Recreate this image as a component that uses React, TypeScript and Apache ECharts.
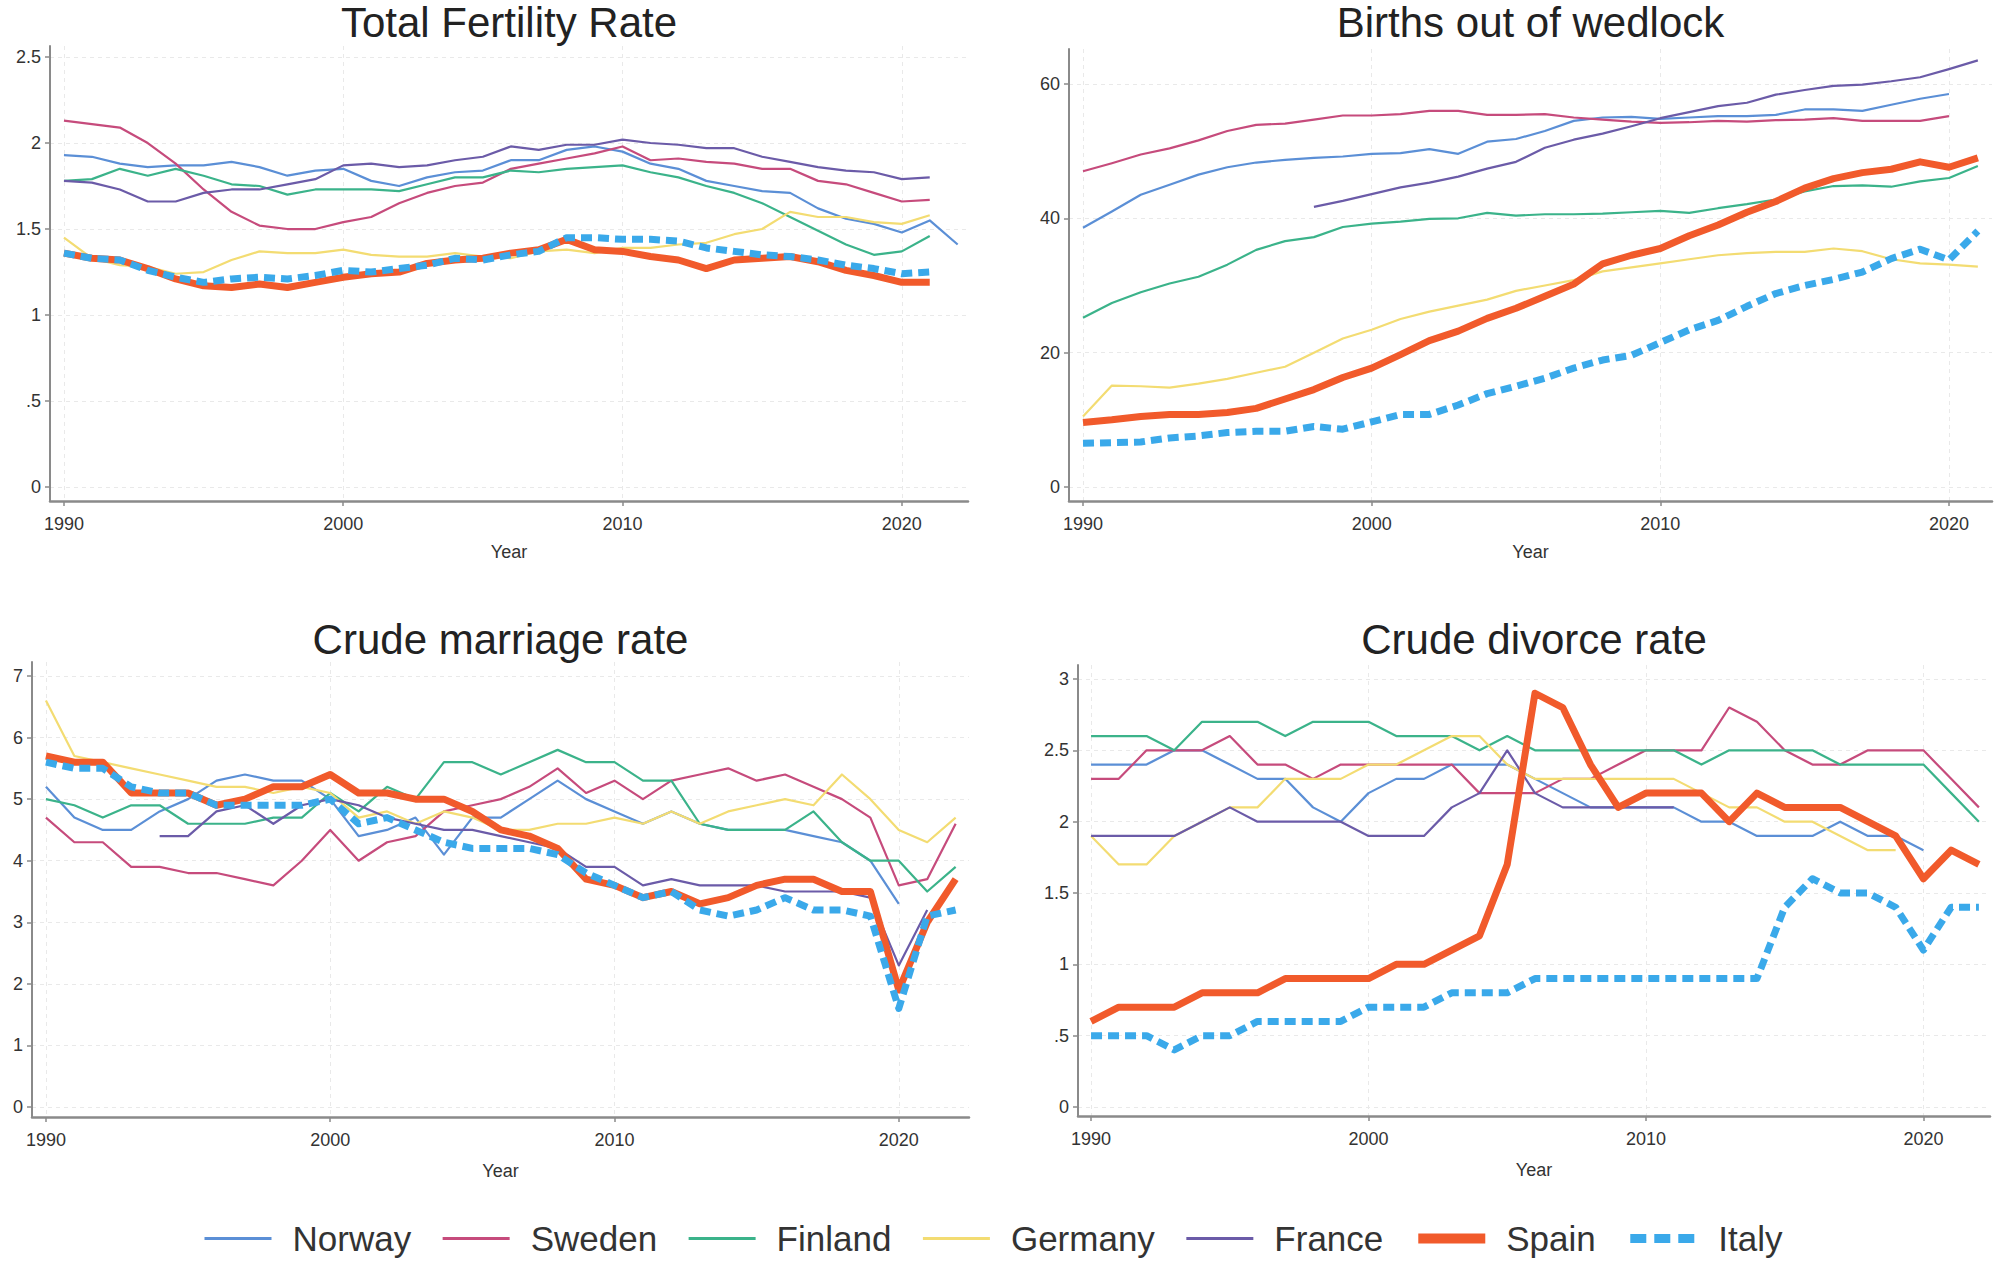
import React, { useEffect, useRef } from "react";
import * as echarts from "echarts";

const YEARS = [1990, 1991, 1992, 1993, 1994, 1995, 1996, 1997, 1998, 1999, 2000, 2001, 2002, 2003, 2004, 2005, 2006, 2007, 2008, 2009, 2010, 2011, 2012, 2013, 2014, 2015, 2016, 2017, 2018, 2019, 2020, 2021, 2022];
const COUNTRIES = ["Norway", "Sweden", "Finland", "Germany", "France", "Spain", "Italy"];
const COLORS = ["#5b8fd6", "#c64b7c", "#3bb38a", "#f3dc72", "#6b5ba8", "#f15a2b", "#3aa9ea"];

const YEAR_TICKS = [1990, 2000, 2010, 2020];
const TFR_TICKS = [0, 0.5, 1, 1.5, 2, 2.5];
const WEDLOCK_TICKS = [0, 20, 40, 60];
const MARRIAGE_TICKS = [0, 1, 2, 3, 4, 5, 6, 7];
const DIVORCE_TICKS = [0, 0.5, 1, 1.5, 2, 2.5, 3];

// Total Fertility Rate
const TFR_NORWAY = [1.93, 1.92, 1.88, 1.86, 1.87, 1.87, 1.89, 1.86, 1.81, 1.84, 1.85, 1.78, 1.75, 1.8, 1.83, 1.84, 1.9, 1.9, 1.96, 1.98, 1.95, 1.88, 1.85, 1.78, 1.75, 1.72, 1.71, 1.62, 1.56, 1.53, 1.48, 1.55, 1.41];
const TFR_SWEDEN = [2.13, 2.11, 2.09, 2.0, 1.88, 1.73, 1.6, 1.52, 1.5, 1.5, 1.54, 1.57, 1.65, 1.71, 1.75, 1.77, 1.85, 1.88, 1.91, 1.94, 1.98, 1.9, 1.91, 1.89, 1.88, 1.85, 1.85, 1.78, 1.76, 1.71, 1.66, 1.67, null];
const TFR_FINLAND = [1.78, 1.79, 1.85, 1.81, 1.85, 1.81, 1.76, 1.75, 1.7, 1.73, 1.73, 1.73, 1.72, 1.76, 1.8, 1.8, 1.84, 1.83, 1.85, 1.86, 1.87, 1.83, 1.8, 1.75, 1.71, 1.65, 1.57, 1.49, 1.41, 1.35, 1.37, 1.46, null];
const TFR_GERMANY = [1.45, 1.33, 1.29, 1.28, 1.24, 1.25, 1.32, 1.37, 1.36, 1.36, 1.38, 1.35, 1.34, 1.34, 1.36, 1.34, 1.33, 1.37, 1.38, 1.36, 1.39, 1.39, 1.41, 1.42, 1.47, 1.5, 1.6, 1.57, 1.57, 1.54, 1.53, 1.58, null];
const TFR_FRANCE = [1.78, 1.77, 1.73, 1.66, 1.66, 1.71, 1.73, 1.73, 1.76, 1.79, 1.87, 1.88, 1.86, 1.87, 1.9, 1.92, 1.98, 1.96, 1.99, 1.99, 2.02, 2.0, 1.99, 1.97, 1.97, 1.92, 1.89, 1.86, 1.84, 1.83, 1.79, 1.8, null];
const TFR_SPAIN = [1.36, 1.33, 1.32, 1.27, 1.21, 1.17, 1.16, 1.18, 1.16, 1.19, 1.22, 1.24, 1.25, 1.3, 1.32, 1.33, 1.36, 1.38, 1.44, 1.38, 1.37, 1.34, 1.32, 1.27, 1.32, 1.33, 1.34, 1.31, 1.26, 1.23, 1.19, 1.19, null];
const TFR_ITALY = [1.36, 1.33, 1.32, 1.26, 1.22, 1.19, 1.21, 1.22, 1.21, 1.23, 1.26, 1.25, 1.27, 1.29, 1.33, 1.32, 1.35, 1.37, 1.45, 1.45, 1.44, 1.44, 1.43, 1.39, 1.37, 1.35, 1.34, 1.32, 1.29, 1.27, 1.24, 1.25, null];

// Births out of wedlock (%)
const BOW_NORWAY = [38.6, 41.0, 43.5, 45.0, 46.5, 47.6, 48.3, 48.7, 49.0, 49.2, 49.6, 49.7, 50.3, 49.6, 51.4, 51.8, 53.0, 54.5, 55.0, 55.1, 54.8, 55.0, 55.2, 55.2, 55.4, 56.2, 56.2, 56.0, 56.9, 57.8, 58.5, null, null];
const BOW_SWEDEN = [47.0, 48.2, 49.5, 50.4, 51.6, 53.0, 53.9, 54.1, 54.7, 55.3, 55.3, 55.5, 56.0, 56.0, 55.4, 55.4, 55.5, 55.0, 54.7, 54.4, 54.2, 54.3, 54.5, 54.4, 54.6, 54.7, 54.9, 54.5, 54.5, 54.5, 55.2, null, null];
const BOW_FINLAND = [25.2, 27.4, 29.0, 30.3, 31.3, 33.1, 35.3, 36.6, 37.2, 38.7, 39.2, 39.5, 39.9, 40.0, 40.8, 40.4, 40.6, 40.6, 40.7, 40.9, 41.1, 40.8, 41.5, 42.1, 42.8, 44.0, 44.8, 44.9, 44.7, 45.5, 46.0, 47.8, null];
const BOW_GERMANY = [10.5, 15.1, 15.0, 14.8, 15.4, 16.1, 17.0, 17.9, 20.0, 22.1, 23.4, 25.0, 26.1, 27.0, 27.9, 29.2, 30.0, 30.8, 32.1, 32.7, 33.3, 33.9, 34.5, 34.8, 35.0, 35.0, 35.5, 35.1, 33.9, 33.3, 33.1, 32.8, null];
const BOW_FRANCE = [null, null, null, null, null, null, null, null, 41.7, 42.6, 43.6, 44.6, 45.3, 46.2, 47.4, 48.4, 50.5, 51.7, 52.6, 53.7, 54.9, 55.8, 56.7, 57.2, 58.4, 59.1, 59.7, 59.9, 60.4, 61.0, 62.2, 63.5, null];
const BOW_SPAIN = [9.6, 10.0, 10.5, 10.8, 10.8, 11.1, 11.7, 13.1, 14.5, 16.3, 17.7, 19.7, 21.8, 23.2, 25.1, 26.6, 28.4, 30.2, 33.2, 34.5, 35.5, 37.4, 39.0, 40.9, 42.5, 44.5, 45.9, 46.8, 47.3, 48.4, 47.6, 49.0, null];
const BOW_ITALY = [6.5, 6.6, 6.7, 7.3, 7.6, 8.1, 8.3, 8.3, 9.0, 8.6, 9.7, 10.8, 10.8, 12.2, 13.9, 15.0, 16.2, 17.7, 18.9, 19.6, 21.5, 23.4, 24.8, 26.9, 28.8, 30.0, 30.9, 32.0, 34.0, 35.4, 33.8, 38.1, null];

// Crude marriage rate
const CMR_NORWAY = [5.2, 4.7, 4.5, 4.5, 4.8, 5.0, 5.3, 5.4, 5.3, 5.3, 5.0, 4.4, 4.5, 4.7, 4.1, 4.7, 4.7, 5.0, 5.3, 5.0, 4.8, 4.6, 4.8, 4.6, 4.5, 4.5, 4.5, 4.4, 4.3, 4.0, 3.3, null, null];
const CMR_SWEDEN = [4.7, 4.3, 4.3, 3.9, 3.9, 3.8, 3.8, 3.7, 3.6, 4.0, 4.5, 4.0, 4.3, 4.4, 4.8, 4.9, 5.0, 5.2, 5.5, 5.1, 5.3, 5.0, 5.3, 5.4, 5.5, 5.3, 5.4, 5.2, 5.0, 4.7, 3.6, 3.7, 4.6];
const CMR_FINLAND = [5.0, 4.9, 4.7, 4.9, 4.9, 4.6, 4.6, 4.6, 4.7, 4.7, 5.1, 4.8, 5.2, 5.0, 5.6, 5.6, 5.4, 5.6, 5.8, 5.6, 5.6, 5.3, 5.3, 4.6, 4.5, 4.5, 4.5, 4.8, 4.3, 4.0, 4.0, 3.5, 3.9];
const CMR_GERMANY = [6.6, 5.7, 5.6, 5.5, 5.4, 5.3, 5.2, 5.2, 5.1, 5.2, 5.1, 4.7, 4.8, 4.6, 4.8, 4.7, 4.5, 4.5, 4.6, 4.6, 4.7, 4.6, 4.8, 4.6, 4.8, 4.9, 5.0, 4.9, 5.4, 5.0, 4.5, 4.3, 4.7];
const CMR_FRANCE = [null, null, null, null, 4.4, 4.4, 4.8, 4.9, 4.6, 4.9, 5.0, 4.9, 4.7, 4.6, 4.5, 4.5, 4.4, 4.3, 4.2, 3.9, 3.9, 3.6, 3.7, 3.6, 3.6, 3.6, 3.5, 3.5, 3.5, 3.4, 2.3, 3.2, null];
const CMR_SPAIN = [5.7, 5.6, 5.6, 5.1, 5.1, 5.1, 4.9, 5.0, 5.2, 5.2, 5.4, 5.1, 5.1, 5.0, 5.0, 4.8, 4.5, 4.4, 4.2, 3.7, 3.6, 3.4, 3.5, 3.3, 3.4, 3.6, 3.7, 3.7, 3.5, 3.5, 1.9, 3.0, 3.7];
const CMR_ITALY = [5.6, 5.5, 5.5, 5.2, 5.1, 5.1, 4.9, 4.9, 4.9, 4.9, 5.0, 4.6, 4.7, 4.5, 4.3, 4.2, 4.2, 4.2, 4.1, 3.8, 3.6, 3.4, 3.5, 3.2, 3.1, 3.2, 3.4, 3.2, 3.2, 3.1, 1.6, 3.1, 3.2];

// Crude divorce rate
const CDR_NORWAY = [2.4, 2.4, 2.4, 2.5, 2.5, 2.4, 2.3, 2.3, 2.1, 2.0, 2.2, 2.3, 2.3, 2.4, 2.4, 2.4, 2.3, 2.2, 2.1, 2.1, 2.1, 2.1, 2.0, 2.0, 1.9, 1.9, 1.9, 2.0, 1.9, 1.9, 1.8, null, null];
const CDR_SWEDEN = [2.3, 2.3, 2.5, 2.5, 2.5, 2.6, 2.4, 2.4, 2.3, 2.4, 2.4, 2.4, 2.4, 2.4, 2.2, 2.2, 2.2, 2.3, 2.3, 2.4, 2.5, 2.5, 2.5, 2.8, 2.7, 2.5, 2.4, 2.4, 2.5, 2.5, 2.5, 2.3, 2.1];
const CDR_FINLAND = [2.6, 2.6, 2.6, 2.5, 2.7, 2.7, 2.7, 2.6, 2.7, 2.7, 2.7, 2.6, 2.6, 2.6, 2.5, 2.6, 2.5, 2.5, 2.5, 2.5, 2.5, 2.5, 2.4, 2.5, 2.5, 2.5, 2.5, 2.4, 2.4, 2.4, 2.4, 2.2, 2.0];
const CDR_GERMANY = [1.9, 1.7, 1.7, 1.9, 2.0, 2.1, 2.1, 2.3, 2.3, 2.3, 2.4, 2.4, 2.5, 2.6, 2.6, 2.4, 2.3, 2.3, 2.3, 2.3, 2.3, 2.3, 2.2, 2.1, 2.1, 2.0, 2.0, 1.9, 1.8, 1.8, null, null, null];
const CDR_FRANCE = [1.9, 1.9, 1.9, 1.9, 2.0, 2.1, 2.0, 2.0, 2.0, 2.0, 1.9, 1.9, 1.9, 2.1, 2.2, 2.5, 2.2, 2.1, 2.1, 2.1, 2.1, 2.1, null, null, null, null, null, null, null, null, null, null, null];
const CDR_SPAIN = [0.6, 0.7, 0.7, 0.7, 0.8, 0.8, 0.8, 0.9, 0.9, 0.9, 0.9, 1.0, 1.0, 1.1, 1.2, 1.7, 2.9, 2.8, 2.4, 2.1, 2.2, 2.2, 2.2, 2.0, 2.2, 2.1, 2.1, 2.1, 2.0, 1.9, 1.6, 1.8, 1.7];
const CDR_ITALY = [0.5, 0.5, 0.5, 0.4, 0.5, 0.5, 0.6, 0.6, 0.6, 0.6, 0.7, 0.7, 0.7, 0.8, 0.8, 0.8, 0.9, 0.9, 0.9, 0.9, 0.9, 0.9, 0.9, 0.9, 0.9, 1.4, 1.6, 1.5, 1.5, 1.4, 1.1, 1.4, 1.4];

const FONT = "'Liberation Sans', Arial, Helvetica, sans-serif";

const PANELS = [
  {
    title: "Total Fertility Rate",
    grid: { left: 50, top: 46, width: 918, height: 455 },
    x: [1989.5, 2022.37],
    y: [-0.081, 2.564],
    yTicks: TFR_TICKS,
    series: [TFR_NORWAY, TFR_SWEDEN, TFR_FINLAND, TFR_GERMANY, TFR_FRANCE, TFR_SPAIN, TFR_ITALY],
    titleY: 22,
    nameGap: 42,
  },
  {
    title: "Births out of wedlock",
    grid: { left: 1069, top: 49, width: 923, height: 452 },
    x: [1989.515, 2021.49],
    y: [-2.084, 65.2],
    yTicks: WEDLOCK_TICKS,
    series: [BOW_NORWAY, BOW_SWEDEN, BOW_FINLAND, BOW_GERMANY, BOW_FRANCE, BOW_SPAIN, BOW_ITALY],
    titleY: 22,
    nameGap: 42,
  },
  {
    title: "Crude marriage rate",
    grid: { left: 32, top: 662, width: 937, height: 455 },
    x: [1989.51, 2022.47],
    y: [-0.162, 7.227],
    yTicks: MARRIAGE_TICKS,
    series: [CMR_NORWAY, CMR_SWEDEN, CMR_FINLAND, CMR_GERMANY, CMR_FRANCE, CMR_SPAIN, CMR_ITALY],
    titleY: 639,
    nameGap: 45,
  },
  {
    title: "Crude divorce rate",
    grid: { left: 1078, top: 665, width: 912, height: 451 },
    x: [1989.53, 2022.4],
    y: [-0.063, 3.098],
    yTicks: DIVORCE_TICKS,
    series: [CDR_NORWAY, CDR_SWEDEN, CDR_FINLAND, CDR_GERMANY, CDR_FRANCE, CDR_SPAIN, CDR_ITALY],
    titleY: 639,
    nameGap: 45,
  },
];

const stataFmt = (v: number) => {
  const s = String(+Number(v).toFixed(3));
  if (s.startsWith("0.")) return s.slice(1);
  return s;
};

const lineWidthOf = (name: string) => (name === "Spain" ? 7 : name === "Italy" ? 7 : 2.2);

function buildOption() {
  const AXIS_COLOR = "#8a8a8a";
  const GRID_LINE = { show: true, lineStyle: { color: "#e9e9e9", width: 1, type: [4, 4] as any } };

  const grid = PANELS.map((p) => ({ ...p.grid, outerBoundsMode: "none", containLabel: false }));

  const xAxis = PANELS.map((p, i) => ({
    type: "value",
    gridIndex: i,
    min: p.x[0],
    max: p.x[1],
    name: "Year",
    nameLocation: "middle",
    nameGap: p.nameGap,
    nameTextStyle: { fontSize: 18, color: "#333", fontFamily: FONT },
    axisLine: { show: true, onZero: false, lineStyle: { color: AXIS_COLOR, width: 2.5 } },
    axisTick: { show: true, length: 5, customValues: YEAR_TICKS, lineStyle: { color: AXIS_COLOR, width: 1.5 } },
    axisLabel: {
      customValues: YEAR_TICKS,
      formatter: (v: number) => String(Math.round(v)),
      fontSize: 18,
      color: "#333",
      fontFamily: FONT,
      margin: 14,
    },
    splitLine: GRID_LINE,
  }));

  const yAxis = PANELS.map((p, i) => ({
    type: "value",
    gridIndex: i,
    min: p.y[0],
    max: p.y[1],
    axisLine: { show: true, onZero: false, lineStyle: { color: AXIS_COLOR, width: 2 } },
    axisTick: { show: true, length: 5, customValues: p.yTicks, lineStyle: { color: AXIS_COLOR, width: 1.5 } },
    axisLabel: {
      customValues: p.yTicks,
      formatter: stataFmt,
      fontSize: 18,
      color: "#333",
      fontFamily: FONT,
      margin: 9,
    },
    splitLine: GRID_LINE,
  }));

  const series: any[] = [];
  PANELS.forEach((p, pi) => {
    p.series.forEach((vals, ci) => {
      const name = COUNTRIES[ci];
      series.push({
        type: "line",
        name,
        xAxisIndex: pi,
        yAxisIndex: pi,
        data: YEARS.map((yr, k) => [yr, vals[k]]),
        symbol: "none",
        showSymbol: false,
        connectNulls: false,
        lineStyle: {
          color: COLORS[ci],
          width: lineWidthOf(name),
          type: name === "Italy" ? [11, 6] : "solid",
          join: "round",
        },
        itemStyle: { color: COLORS[ci] },
        emphasis: { disabled: true },
        z: 2 + ci,
      });
    });
  });

  const graphic = PANELS.map((p) => ({
    type: "text",
    x: p.grid.left + p.grid.width / 2,
    y: p.titleY,
    style: {
      text: p.title,
      align: "center",
      verticalAlign: "middle",
      fontSize: 42,
      fontFamily: FONT,
      fill: "#222",
    },
  }));

  const legend = {
    left: 203,
    top: 1221,
    padding: 0,
    orient: "horizontal",
    itemWidth: 67,
    itemHeight: 14,
    itemGap: 30,
    itemStyle: { opacity: 0 },
    textStyle: { fontSize: 35, color: "#333", fontFamily: FONT, padding: [0, 0, 0, 16] },
    data: COUNTRIES.map((name) => ({
      name,
      lineStyle: {
        width: name === "Spain" ? 10 : name === "Italy" ? 9 : 3,
        type: name === "Italy" ? [16, 8] : "solid",
      },
    })),
    selectedMode: false,
  };

  return {
    animation: false,
    backgroundColor: "#ffffff",
    grid,
    xAxis,
    yAxis,
    series,
    graphic,
    legend,
  };
}

export default function App() {
  const ref = useRef<HTMLDivElement>(null);
  useEffect(() => {
    if (!ref.current) return;
    const chart = echarts.init(ref.current, undefined, { renderer: "svg" });
    chart.setOption(buildOption() as any);
    return () => chart.dispose();
  }, []);
  return (
    <div
      ref={ref}
      style={{ position: "absolute", left: 0, top: 0, width: 2000, height: 1269, background: "#fff" }}
    />
  );
}
